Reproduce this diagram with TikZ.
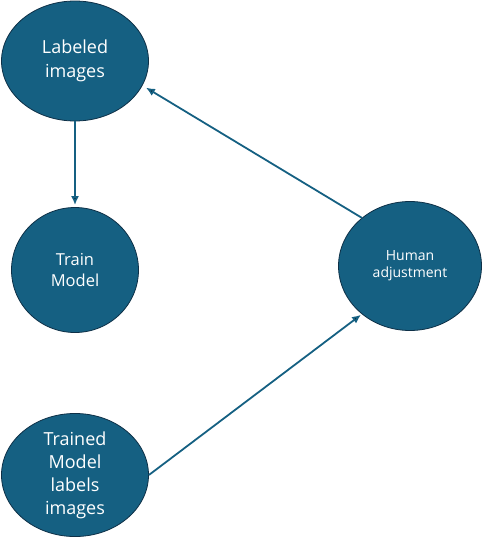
\documentclass[tikz,border=0pt]{standalone}
\usepackage{fontspec}
\setmainfont{Open Sans}
\usepackage{tikz}
\usetikzlibrary{shapes.geometric,positioning,arrows.meta}
\definecolor{nodeblue}{HTML}{156082}
\definecolor{edgeblue}{HTML}{0E3047}

\begin{document}
\begin{tikzpicture}[x=1pt,y=-1pt,on grid,
    blob/.style={ellipse,draw=edgeblue,line width=0.8pt,fill=nodeblue,text=white,align=center,inner sep=0pt},
    link/.style={draw=nodeblue,line width=1.8pt,-{Latex[length=9pt,width=8pt]}}]
    \useasboundingbox (0,0) rectangle (484,538);
    \node[blob,minimum width=147pt,minimum height=120pt,font=\fontsize{18}{24}\selectfont] (labeled) at (75,61) {Labeled\\images};
    \node[blob,minimum width=127pt,minimum height=125pt,font=\fontsize{16.5}{21}\selectfont] (train) [below = 209pt of labeled] {Train\\Model};
    \node[blob,minimum width=147pt,minimum height=123pt,font=\fontsize{18}{23}\selectfont] (trained) [below = 205pt of train] {Trained\\Model\\labels\\images};
    \node[blob,minimum width=143pt,minimum height=129pt,font=\fontsize{14}{17}\selectfont] (human) [right = 335pt of train, yshift=4pt] {Human\\adjustment};
    \path[link]
    (labeled) edge [shorten >=2pt] (train)
    (trained.east) edge [shorten >=1pt] (human.225)
    (human.135) edge [shorten >=4pt] (labeled.-20)
    ;
\end{tikzpicture}
\end{document}
